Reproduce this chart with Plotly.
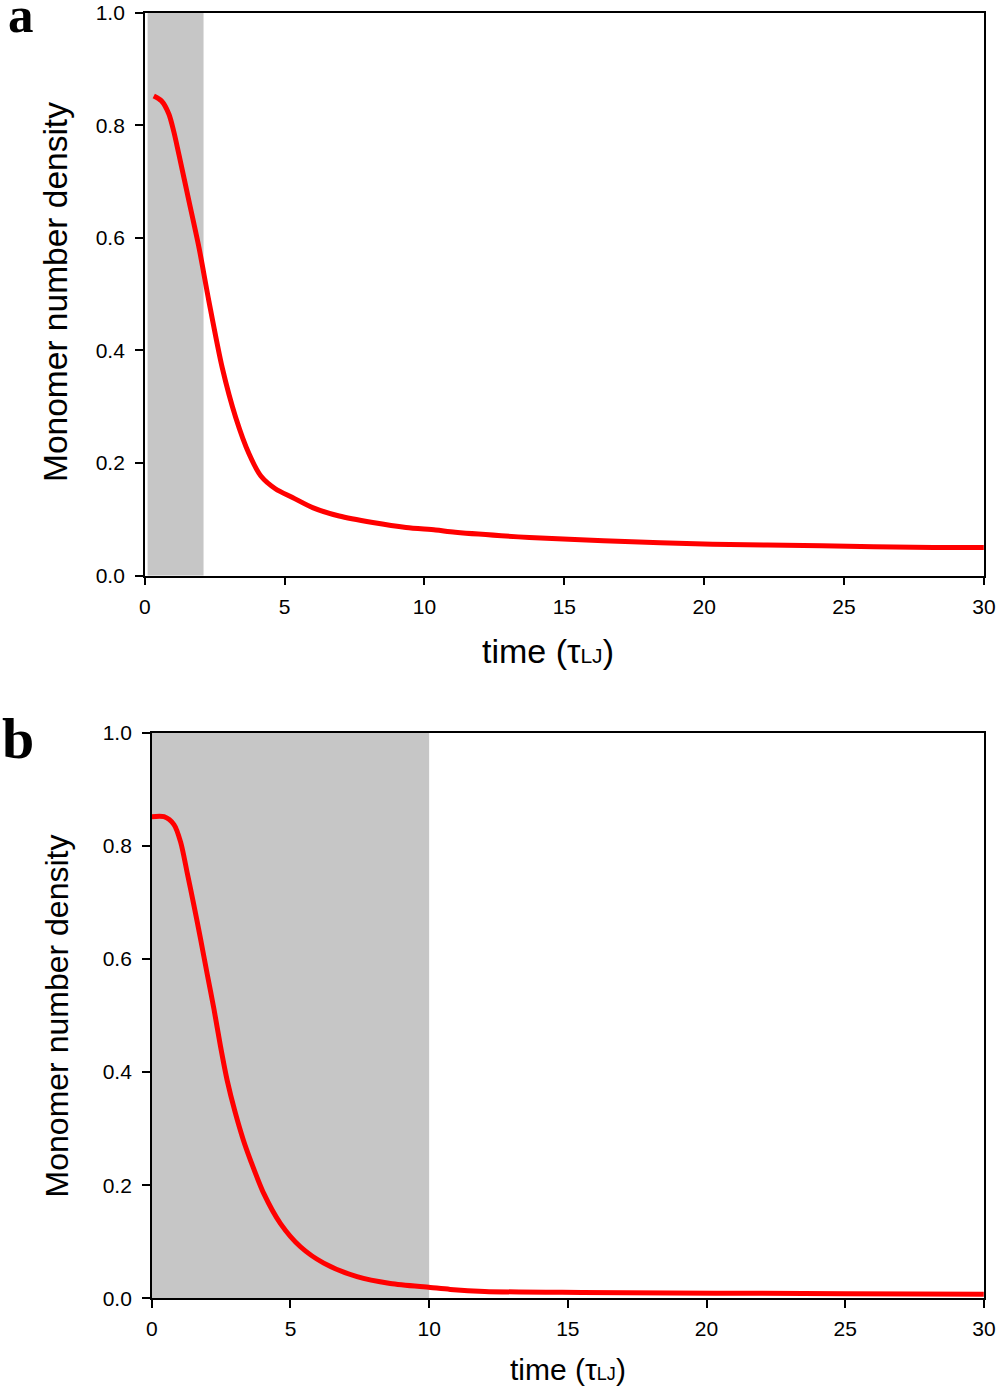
import plotly.graph_objects as go

# Panel a data
time_a = [0.32, 0.6, 0.86, 1.04, 1.22, 1.58, 1.94, 2.29, 2.77, 3.25, 3.73, 4.15, 4.68, 5.28, 6.0,
          6.95, 8.15, 9.34, 10.4, 11.1, 13.75, 16.4, 20.3, 24.2, 28.2, 30.0]
dens_a = [0.852, 0.843, 0.820, 0.788, 0.748, 0.665, 0.582, 0.488, 0.369, 0.281, 0.216, 0.177, 0.154,
          0.139, 0.121, 0.106, 0.0945, 0.0856, 0.081, 0.077, 0.068, 0.062, 0.056, 0.053, 0.050, 0.050]
shade_a = [0.1, 2.1]

# Panel b data
time_b = [0.0, 0.44, 0.8, 1.04, 1.28, 1.52, 1.76, 2.0, 2.24, 2.48, 2.72, 3.0, 3.3, 3.56, 4.04, 4.64,
          5.36, 6.2, 7.4, 8.6, 10.04, 10.76, 12.0, 15.5, 25.0, 30.0]
dens_b = [0.852, 0.852, 0.838, 0.807, 0.752, 0.695, 0.635, 0.573, 0.512, 0.445, 0.385, 0.330, 0.280,
          0.244, 0.185, 0.132, 0.091, 0.062, 0.038, 0.026, 0.019, 0.0155, 0.012, 0.010, 0.008, 0.007]
shade_b = [0.0, 10.0]

x_ticks = [0, 5, 10, 15, 20, 25, 30]
y_ticks = [0.0, 0.2, 0.4, 0.6, 0.8, 1.0]
y_tick_labels = ["0.0", "0.2", "0.4", "0.6", "0.8", "1.0"]

RED = "#ff0000"
GRAY = "#c6c6c6"
FONT = "Liberation Sans, Arial, sans-serif"
SERIF = "Liberation Serif, Times New Roman, serif"

# Page: body keeps an 8px margin and the shot is fitted to the window.
W, H, OFF = 999, 1394, 8
SC = 999 / (W + 2 * OFF)


def clamp(v):
    return min(1.0, max(0.0, v))


def fx(r):
    return clamp((r / SC - OFF) / W)


def fy(r):
    return clamp(1 - (r / SC - OFF) / H)


fig = go.Figure()
fig.add_trace(go.Scatter(x=time_a, y=dens_a, mode="lines",
                         line=dict(color=RED, width=5, shape="spline", smoothing=0.8),
                         xaxis="x", yaxis="y", showlegend=False))
fig.add_trace(go.Scatter(x=time_b, y=dens_b, mode="lines",
                         line=dict(color=RED, width=5, shape="spline", smoothing=0.8),
                         xaxis="x2", yaxis="y2", showlegend=False))

fig.add_shape(type="rect", xref="x", yref="y", x0=shade_a[0], x1=shade_a[1], y0=0, y1=1,
              fillcolor=GRAY, line=dict(width=0), layer="below")
fig.add_shape(type="rect", xref="x2", yref="y2", x0=shade_b[0], x1=shade_b[1], y0=0, y1=1,
              fillcolor=GRAY, line=dict(width=0), layer="below")

common_x = dict(range=[0, 30], tickvals=x_ticks, ticks="outside", ticklen=8, tickwidth=1.5,
                tickcolor="black", showline=True, linecolor="black", linewidth=1.5, mirror=True,
                showgrid=False, zeroline=False, tickfont=dict(family=FONT, size=21, color="black"),
                ticklabelstandoff=3, ticklabeloverflow="allow")
common_y = dict(range=[0, 1], tickvals=y_ticks, ticktext=y_tick_labels, ticks="outside", ticklen=8,
                tickwidth=1.5, tickcolor="black", showline=True, linecolor="black", linewidth=1.5,
                mirror=True, showgrid=False, zeroline=False,
                tickfont=dict(family=FONT, size=21, color="black"), ticklabelstandoff=6,
                ticklabeloverflow="allow")

fig.update_layout(
    width=W, height=H, margin=dict(l=0, r=0, t=0, b=0),
    paper_bgcolor="white", plot_bgcolor="white",
    xaxis=dict(domain=[fx(147), fx(988)], anchor="y", **common_x),
    yaxis=dict(domain=[fy(572), fy(8.5)], anchor="x", **common_y),
    xaxis2=dict(domain=[fx(154), fx(988)], anchor="y2", **common_x),
    yaxis2=dict(domain=[fy(1295), fy(729.5)], anchor="x2", **common_y),
)

# y-axis titles
fig.add_annotation(text="Monomer number density", xref="paper", yref="paper",
                   x=fx(58), y=fy(288), xanchor="center", yanchor="middle", textangle=-90,
                   showarrow=False, font=dict(family=FONT, size=33.5, color="black"))
fig.add_annotation(text="Monomer number density", xref="paper", yref="paper",
                   x=fx(59), y=fy(1013), xanchor="center", yanchor="middle", textangle=-90,
                   showarrow=False, font=dict(family=FONT, size=32, color="black"))

# x-axis titles
fig.add_annotation(text='time (τ<span style="font-size:21px">LJ</span>)', xref="paper", yref="paper",
                   x=fx(551), y=fy(647), xanchor="center", yanchor="middle", showarrow=False,
                   font=dict(family=FONT, size=34, color="black"))
fig.add_annotation(text='time (τ<span style="font-size:18px">LJ</span>)', xref="paper", yref="paper",
                   x=fx(571), y=fy(1366), xanchor="center", yanchor="middle", showarrow=False,
                   font=dict(family=FONT, size=30, color="black"))

# panel letters
fig.add_annotation(text="<b>a</b>", xref="paper", yref="paper", x=15.4 / W, y=1 - 3.0 / H,
                   xanchor="center", yanchor="middle", showarrow=False,
                   font=dict(family=SERIF, size=51, color="black"))
fig.add_annotation(text="<b>b</b>", xref="paper", yref="paper", x=12.3 / W, y=1 - 739.0 / H,
                   xanchor="center", yanchor="middle", showarrow=False,
                   font=dict(family=SERIF, size=58, color="black"))

fig.write_html("out.html")
